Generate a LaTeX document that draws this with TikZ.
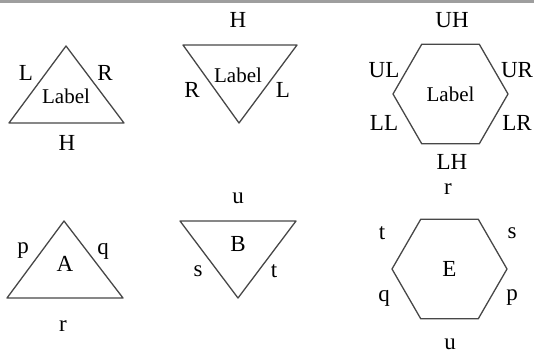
\documentclass[tikz,border=0pt]{standalone}
\usepackage{fontspec}
\setmainfont{Liberation Serif}
\usetikzlibrary{shapes.geometric}

\begin{document}
\begin{tikzpicture}[x=1pt,y=-1pt,
  edge/.style={draw=black!72, line width=1.3pt, line join=round},
  hexa/.style={edge, regular polygon, regular polygon sides=6,
    minimum size=115pt, inner sep=0pt, font=\fontsize{21}{24}\selectfont},
  lbl/.style={font=\fontsize{23}{26}\selectfont, inner sep=0pt},
  ctr/.style={font=\fontsize{21}{24}\selectfont, inner sep=0pt}]
\useasboundingbox (0,0) rectangle (534,356);
\fill[black!38] (0,0) rectangle (534,2.5);

% upper row: the generic labels
\coordinate (upA) at (66,46); \coordinate (upB) at (9,123); \coordinate (upC) at (124,123);
\draw[edge] (upA) -- (upB) -- (upC) -- cycle;
\node[ctr] (upLabel) at (66,96) {Label};
\foreach \nm/\x/\y/\txt in {upL/26/73/L, upR/105/73/R, upH/67/143/H}{
  \node[lbl] (\nm) at (\x,\y) {\txt};
}

\coordinate (dnA) at (183,45); \coordinate (dnB) at (297,45); \coordinate (dnC) at (239,123);
\draw[edge] (dnA) -- (dnB) -- (dnC) -- cycle;
\node[ctr] (dnLabel) at (238,75) {Label};
\foreach \nm/\x/\y/\txt in {dnH/238/20/H, dnR/192/90/R, dnL/283/90/L}{
  \node[lbl] (\nm) at (\x,\y) {\txt};
}

\node[hexa] (hexLabel) at (450.5,94) {Label};
\foreach \nm/\x/\y/\txt in {hxUH/452/20/UH, hxUL/384/70/UL, hxUR/517/70/UR,
    hxLL/384/123/LL, hxLR/517/123/LR, hxLH/452/162/LH}{
  \node[lbl] (\nm) at (\x,\y) {\txt};
}

% lower row: A, B and E
\coordinate (aTop) at (64,221); \coordinate (aLeft) at (7,298); \coordinate (aRight) at (123,298);
\draw[edge] (aTop) -- (aLeft) -- (aRight) -- cycle;
\foreach \nm/\x/\y/\txt in {aName/65/264/A, aP/23/251/p, aQ/103/251/q, aR/63/326/r}{
  \node[lbl] (\nm) at (\x,\y) {\txt};
}

\coordinate (bLeft) at (180,221); \coordinate (bRight) at (296,221); \coordinate (bBot) at (238,298);
\draw[edge] (bLeft) -- (bRight) -- (bBot) -- cycle;
\foreach \nm/\x/\y/\txt in {bName/238/244/B, bU/238/198/u, bS/198/271/s, bT/274/271/t}{
  \node[lbl] (\nm) at (\x,\y) {\txt};
}

\node[hexa, font=\fontsize{23}{26}\selectfont] (eName) at (449.5,269) {E};
\foreach \nm/\x/\y/\txt in {eR/448/189/r, eT/382/233/t, eS/512/233/s,
    eQ/384/298/q, eP/512/298/p, eU/450/344/u}{
  \node[lbl] (\nm) at (\x,\y) {\txt};
}
\end{tikzpicture}
\end{document}
